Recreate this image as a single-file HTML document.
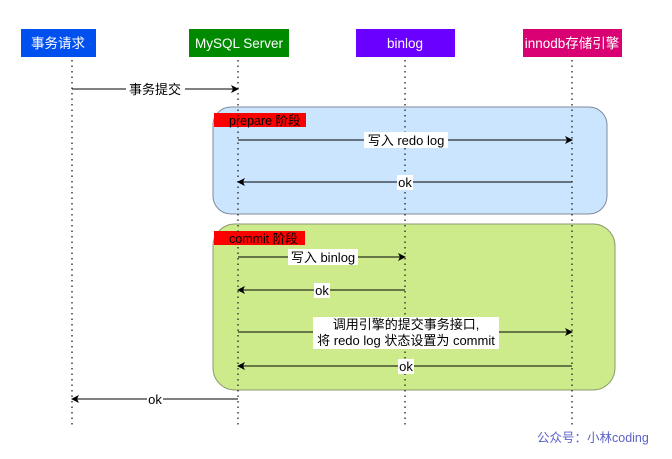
<!DOCTYPE html>
<html><head><meta charset="utf-8"><style>
body{margin:0;background:#fff;}
svg text{font-family:"Liberation Sans","Noto Sans CJK SC",sans-serif;}
</style></head><body>
<svg width="672" height="454" xmlns="http://www.w3.org/2000/svg">
<defs><marker id="a" markerWidth="8" markerHeight="8" refX="7" refY="4" orient="auto" markerUnits="userSpaceOnUse"><path d="M0,0 L8,4 L0,8 L2,4z" fill="#000"/></marker></defs>
<rect x="213" y="107" width="394" height="107" rx="18" fill="#cce5ff" stroke="#7f8a99" stroke-width="1"/>
<rect x="213" y="224" width="402" height="166" rx="22" fill="#cdeb8b" stroke="#8a9a70" stroke-width="1"/>
<rect x="214" y="113" width="92" height="14" fill="#ff0000"/>
<text x="229" y="125" font-size="12.5">prepare 阶段</text>
<rect x="214" y="231" width="91" height="14" fill="#ff0000"/>
<text x="229" y="243" font-size="12.5">commit 阶段</text>
<g stroke="#222" stroke-width="1.3" stroke-dasharray="1.5,4">
<line x1="72" y1="60" x2="72" y2="425"/><line x1="238" y1="60" x2="238" y2="425"/>
<line x1="405" y1="60" x2="405" y2="425"/><line x1="572" y1="60" x2="572" y2="425"/>
</g>
<rect x="21" y="29" width="75" height="28" fill="#0050ef"/>
<rect x="189" y="29" width="100" height="28" fill="#008a00"/>
<rect x="356" y="29" width="99" height="28" fill="#6a00ff"/>
<rect x="523" y="29" width="99" height="28" fill="#d80073"/>
<g fill="#fff" font-size="13.5" text-anchor="middle">
<text x="58" y="48">事务请求</text><text x="239" y="48">MySQL Server</text>
<text x="405" y="48">binlog</text><text x="572" y="48">innodb存储引擎</text></g>
<g stroke="#000" stroke-width="1" fill="none">
<line x1="72" y1="89" x2="238" y2="89" marker-end="url(#a)"/>
<line x1="238" y1="140" x2="572" y2="140" marker-end="url(#a)"/>
<line x1="572" y1="182" x2="238" y2="182" marker-end="url(#a)"/>
<line x1="238" y1="257" x2="405" y2="257" marker-end="url(#a)"/>
<line x1="405" y1="290" x2="238" y2="290" marker-end="url(#a)"/>
<line x1="238" y1="332" x2="572" y2="332" marker-end="url(#a)"/>
<line x1="572" y1="366" x2="238" y2="366" marker-end="url(#a)"/>
<line x1="238" y1="399" x2="72" y2="399" marker-end="url(#a)"/>
</g>
<g font-size="13" text-anchor="middle">
<rect x="126" y="81" width="59" height="16" fill="#fff"/><text x="155" y="94">事务提交</text>
<rect x="364" y="132" width="84" height="16" fill="#fff"/><text x="406" y="145">写入 redo log</text>
<rect x="397" y="175" width="16" height="15" fill="#fff"/><text x="405" y="187">ok</text>
<rect x="288" y="249" width="70" height="16" fill="#fff"/><text x="323" y="262">写入 binlog</text>
<rect x="314" y="283" width="16" height="15" fill="#fff"/><text x="322" y="295">ok</text>
<rect x="313" y="317" width="186" height="32" fill="#fff"/>
<text x="406" y="329">调用引擎的提交事务接口,</text><text x="406" y="345">将 redo log 状态设置为 commit</text>
<rect x="398" y="359" width="16" height="15" fill="#fff"/><text x="406" y="371">ok</text>
<rect x="147" y="392" width="16" height="15" fill="#fff"/><text x="155" y="404">ok</text>
</g>
<text x="537" y="442" font-size="12.5" fill="#5b63c9">公众号：小林coding</text>
</svg>
</body></html>
